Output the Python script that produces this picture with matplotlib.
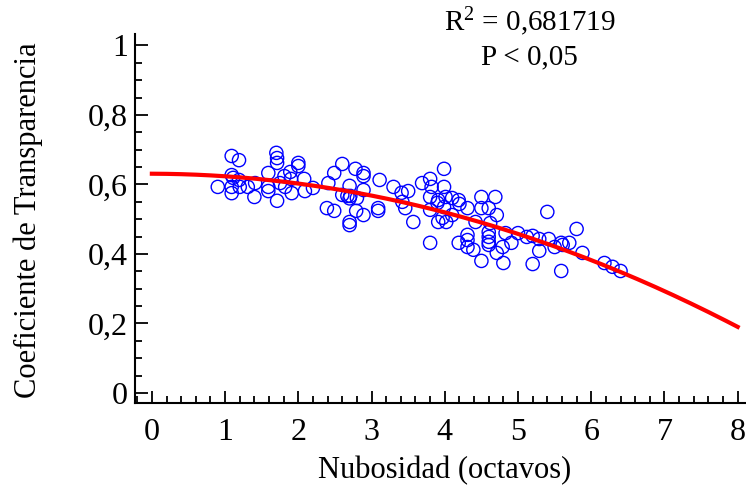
import matplotlib

matplotlib.use("Agg")

import matplotlib.pyplot as plt
import numpy as np
from matplotlib.ticker import MultipleLocator, FuncFormatter

# =========================
# Data
# =========================
nubosidad = [
    1.09, 1.19, 1.09, 1.11, 0.90, 1.09, 1.09, 1.19, 1.20, 1.31,
    1.40, 1.41, 1.59, 1.59, 1.59, 1.70, 1.71, 1.71, 1.71, 1.75,
    1.81, 1.82, 1.89, 1.90, 1.91, 2.00, 2.00, 2.08, 2.09, 2.20,
    2.41, 2.49, 2.60, 2.78, 2.89, 2.89, 2.70, 2.60, 2.67, 2.71,
    2.70, 2.89, 2.80, 2.39, 2.49, 2.79, 2.89, 2.70, 2.70, 3.11,
    3.09, 3.09, 3.30, 3.41, 3.50, 3.42, 3.46, 3.57,
    3.99, 3.69, 3.80, 3.82, 3.99, 3.80, 3.91, 3.90, 4.01, 4.10,
    4.19, 4.20, 4.31, 3.80, 3.99, 4.10, 3.97, 3.91, 4.02, 4.50,
    4.69, 4.50, 4.60, 4.71, 4.42, 4.62,
    3.80, 4.19, 4.31, 4.31, 4.31, 4.39, 4.50, 4.60, 4.60, 4.60,
    4.60, 4.71, 4.79, 4.80, 4.91, 4.83,
    5.40, 5.80, 5.00, 5.12, 5.20, 5.29, 5.42, 5.29, 5.50, 5.59,
    5.61, 5.70, 5.88, 5.20, 5.59, 6.18, 6.29, 6.40,
]
transparencia = [
    0.682, 0.670, 0.627, 0.619, 0.593, 0.593, 0.575, 0.613, 0.593, 0.593,
    0.564, 0.604, 0.633, 0.593, 0.581, 0.691, 0.676, 0.662, 0.553, 0.604,
    0.624, 0.593, 0.636, 0.616, 0.575, 0.662, 0.653, 0.616, 0.581, 0.590,
    0.604, 0.633, 0.659, 0.645, 0.633, 0.624, 0.596, 0.570, 0.567, 0.567,
    0.560, 0.584, 0.561, 0.532, 0.524, 0.524, 0.512, 0.492, 0.483, 0.613,
    0.532, 0.524, 0.593, 0.576, 0.581, 0.550, 0.532, 0.492,
    0.645, 0.604, 0.616, 0.593, 0.593, 0.564, 0.555, 0.547, 0.564, 0.561,
    0.555, 0.544, 0.532, 0.527, 0.535, 0.512, 0.504, 0.492, 0.492, 0.564,
    0.564, 0.532, 0.532, 0.512, 0.492, 0.489,
    0.432, 0.432, 0.455, 0.440, 0.420, 0.412, 0.380, 0.463, 0.449, 0.435,
    0.426, 0.403, 0.420, 0.374, 0.432, 0.460,
    0.521, 0.472, 0.460, 0.449, 0.452, 0.443, 0.443, 0.409, 0.420, 0.432,
    0.426, 0.432, 0.403, 0.371, 0.351, 0.374, 0.363, 0.351,
]

x_ticks = [0, 1, 2, 3, 4, 5, 6, 7, 8]
y_ticks = [0, 0.2, 0.4, 0.6, 0.8, 1.0]

r2_text = "R$^2$ = 0,681719"
p_text = "P < 0,05"

# =========================
# Style
# =========================
FONT = "Liberation Serif"
TICK_SIZE = 23
LABEL_SIZE = 22
NOTE_SIZE = 21
BLUE = "#0000ff"
RED = "#ff0000"

plt.rcParams.update(
    {
        "font.family": FONT,
        "font.size": LABEL_SIZE,
        "mathtext.fontset": "custom",
        "mathtext.rm": FONT,
        "mathtext.it": FONT,
    }
)


def comma_fmt(v, _pos):
    if abs(v - round(v)) < 1e-9:
        return f"{int(round(v))}"
    return f"{v:g}".replace(".", ",")


fig = plt.figure(figsize=(7.46, 4.91), dpi=100)
ax = fig.add_axes([0.181, 0.1792, 0.8177, 0.7515])

ax.scatter(
    nubosidad,
    transparencia,
    s=9.5 ** 2,
    facecolor="none",
    edgecolor=BLUE,
    linewidth=1.0,
    zorder=3,
)

# quadratic regression through the points
coef = np.polyfit(nubosidad, transparencia, 2)
xs = np.linspace(0, 8, 200)
ax.plot(xs, np.polyval(coef, xs), color=RED, linewidth=3.0, zorder=4)

ax.set_xlim(-0.23, 8.1)
ax.set_ylim(-0.029, 1.033)
ax.set_xticks(x_ticks)
ax.set_yticks(y_ticks)
ax.xaxis.set_minor_locator(MultipleLocator(0.2))
ax.yaxis.set_minor_locator(MultipleLocator(0.05))
ax.xaxis.set_major_formatter(FuncFormatter(comma_fmt))
ax.yaxis.set_major_formatter(FuncFormatter(comma_fmt))

for side in ("top", "right"):
    ax.spines[side].set_visible(False)
for side in ("left", "bottom"):
    ax.spines[side].set_linewidth(1.5)

ax.tick_params(which="major", direction="in", length=9, width=1.3, labelsize=TICK_SIZE)
ax.tick_params(which="minor", direction="in", length=5, width=1.3)
ax.tick_params(axis="x", which="major", pad=11)
ax.tick_params(axis="y", which="major", pad=5)

ax.set_xlabel("Nubosidad (octavos)", fontsize=LABEL_SIZE)
ax.set_ylabel("Coeficiente de Transparencia", fontsize=LABEL_SIZE)
ax.xaxis.set_label_coords(0.508, -0.184)
ax.xaxis.label.set_va("center")
ax.yaxis.set_label_coords(-0.175, 0.496)
ax.yaxis.label.set_va("center")

fig.text(0.71, 0.955, r2_text, ha="center", va="center", fontsize=NOTE_SIZE)
fig.text(0.71, 0.884, p_text, ha="center", va="center", fontsize=NOTE_SIZE)

fig.savefig("out.png", dpi=100)
